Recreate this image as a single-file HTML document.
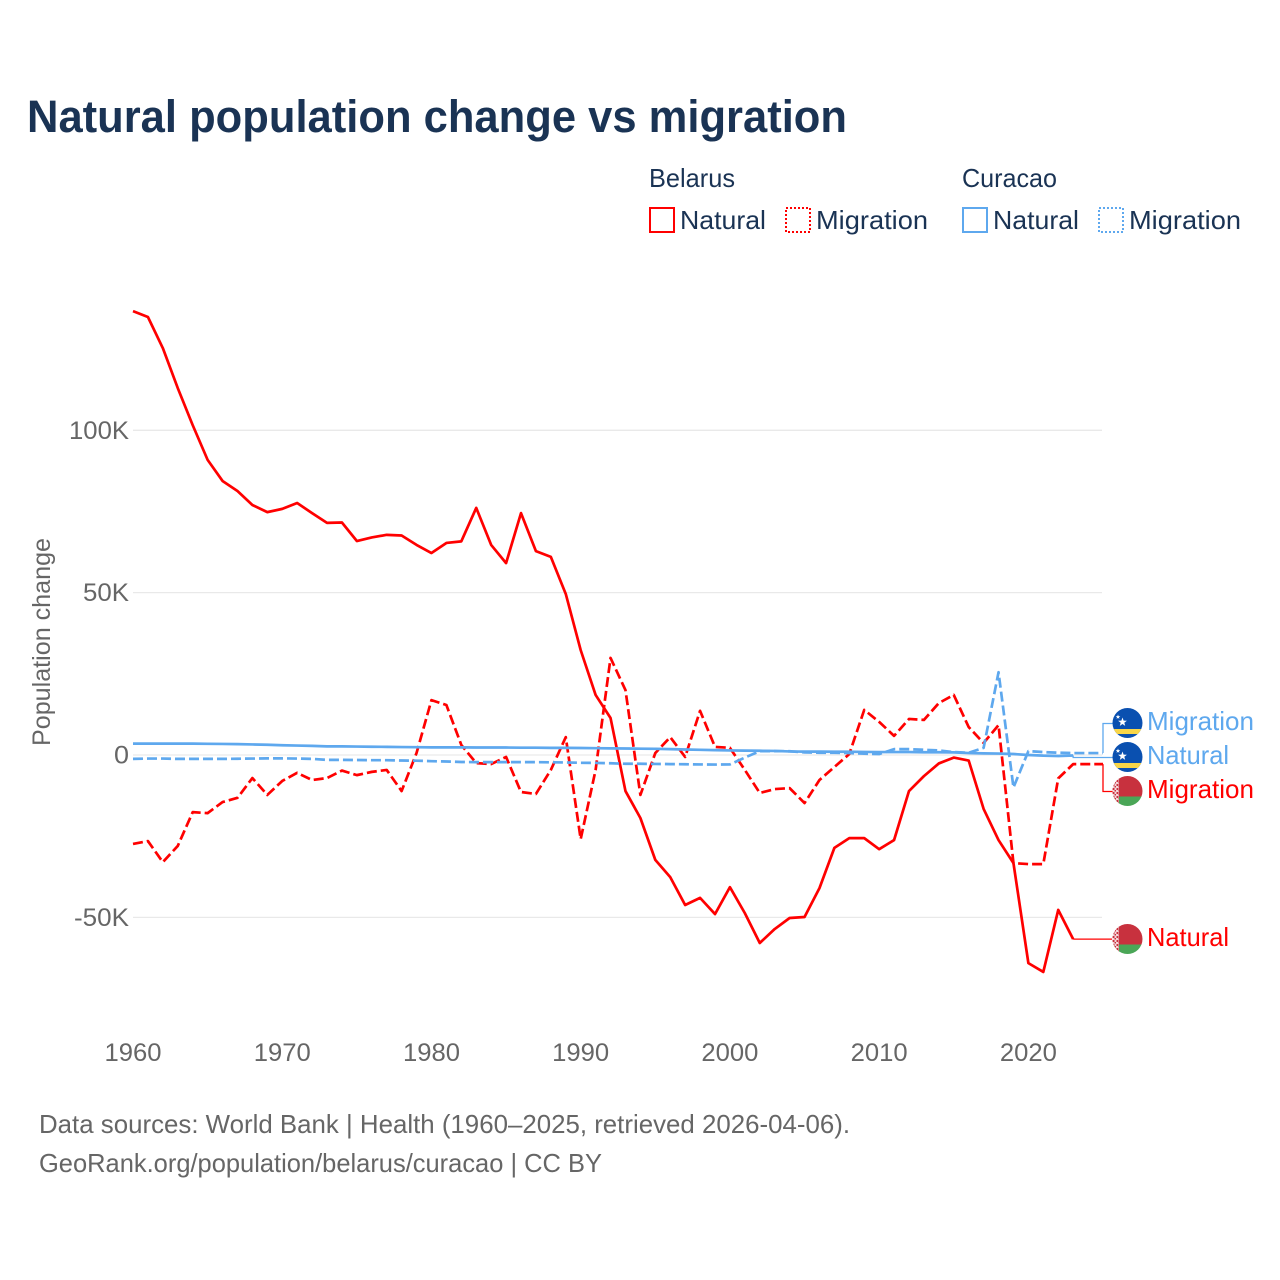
<!DOCTYPE html>
<html lang="en">
<head>
<meta charset="utf-8">
<title>Natural population change vs migration</title>
<style>
html,body{margin:0;padding:0;background:#fff;}
svg{display:block;}
text{font-family:"Liberation Sans",sans-serif;}
</style>
</head>
<body>
<svg id="chart" xmlns="http://www.w3.org/2000/svg" width="1280" height="1280" viewBox="0 0 1280 1280">
  <defs>
    <clipPath id="flag-clip"><circle cx="15" cy="15" r="15"/></clipPath>
    <pattern id="ornament" width="4" height="4" patternUnits="userSpaceOnUse">
      <rect width="4" height="4" fill="#f3d5d8"/>
      <rect x="0" y="0" width="2" height="2" fill="#c8313e"/>
      <rect x="2" y="2" width="1.5" height="1.5" fill="#c8313e"/>
    </pattern>
    <g id="flag-curacao">
      <g clip-path="url(#flag-clip)">
        <rect width="30" height="30" fill="#0a50b0"/>
        <rect y="21" width="30" height="5" fill="#f9d648"/>
        <polygon fill="#fff" points="10,9.5 11.1,12.6 14.4,12.7 11.8,14.7 12.7,17.9 10,16 7.3,17.9 8.2,14.7 5.6,12.7 8.9,12.6"/>
        <polygon fill="#fff" points="5.5,6.5 6.1,8.1 7.8,8.2 6.5,9.2 6.9,10.9 5.5,9.9 4.1,10.9 4.5,9.2 3.2,8.2 4.9,8.1"/>
      </g>
    </g>
    <g id="flag-belarus">
      <g clip-path="url(#flag-clip)">
        <rect width="30" height="20.5" fill="#c8313e"/>
        <rect y="20.5" width="30" height="9.5" fill="#4aa657"/>
        <rect width="6.5" height="30" fill="url(#ornament)"/>
      </g>
    </g>
  </defs>

  <text x="27" y="132" font-size="45" font-weight="700" fill="#1a3354" textLength="820" lengthAdjust="spacingAndGlyphs">Natural population change vs migration</text>

  <g font-size="26" fill="#1a3354">
    <text x="649" y="187" textLength="86" lengthAdjust="spacingAndGlyphs">Belarus</text>
    <text x="962" y="187" textLength="95" lengthAdjust="spacingAndGlyphs">Curacao</text>
    <g>
      <rect x="650" y="208" width="24" height="24" fill="none" stroke="#ff0000" stroke-width="2" shape-rendering="crispEdges"/>
      <text x="680" y="229" textLength="86" lengthAdjust="spacingAndGlyphs">Natural</text>
    </g>
    <g>
      <rect x="786" y="208" width="24" height="24" fill="none" stroke="#ff0000" stroke-width="2" stroke-dasharray="2,2" shape-rendering="crispEdges"/>
      <text x="816" y="229" textLength="112" lengthAdjust="spacingAndGlyphs">Migration</text>
    </g>
    <g>
      <rect x="963" y="208" width="24" height="24" fill="none" stroke="#5ea8ee" stroke-width="2" shape-rendering="crispEdges"/>
      <text x="993" y="229" textLength="86" lengthAdjust="spacingAndGlyphs">Natural</text>
    </g>
    <g>
      <rect x="1099" y="208" width="24" height="24" fill="none" stroke="#5ea8ee" stroke-width="2" stroke-dasharray="2,2" shape-rendering="crispEdges"/>
      <text x="1129" y="229" textLength="112" lengthAdjust="spacingAndGlyphs">Migration</text>
    </g>
  </g>

  <text transform="translate(50,642) rotate(-90)" text-anchor="middle" font-size="25" fill="#666666" textLength="208" lengthAdjust="spacingAndGlyphs">Population change</text>

  <g id="grid"></g>
  <g id="y-ticks"></g>
  <g id="x-ticks"></g>
  <g id="connectors"></g>
  <g id="series"></g>

  <g font-size="26">
    <use href="#flag-curacao" x="1112.5" y="708"/>
    <use href="#flag-curacao" x="1112.5" y="742"/>
    <use href="#flag-belarus" x="1112.5" y="776"/>
    <use href="#flag-belarus" x="1112.5" y="924"/>
    <text x="1147" y="730" fill="#5ea8ee" textLength="107" lengthAdjust="spacingAndGlyphs">Migration</text>
    <text x="1147" y="764" fill="#5ea8ee" textLength="82" lengthAdjust="spacingAndGlyphs">Natural</text>
    <text x="1147" y="798" fill="#ff0000" textLength="107" lengthAdjust="spacingAndGlyphs">Migration</text>
    <text x="1147" y="946" fill="#ff0000" textLength="82" lengthAdjust="spacingAndGlyphs">Natural</text>
  </g>

  <g font-size="26" fill="#666666">
    <text x="39" y="1133" textLength="811" lengthAdjust="spacingAndGlyphs">Data sources: World Bank | Health (1960–2025, retrieved 2026-04-06).</text>
    <text x="39" y="1172" textLength="563" lengthAdjust="spacingAndGlyphs">GeoRank.org/population/belarus/curacao | CC BY</text>
  </g>
</svg>
<script>
// Chart data (values in thousands of people, 1960 onward)
var startYear = 1960;
var belarusNatural = [
  136.7,134.9,125.3,113.0,101.6,90.9,84.4,81.3,77.0,74.8,
  75.8,77.6,74.5,71.5,71.6,65.9,67.0,67.8,67.6,64.7,
  62.2,65.3,65.8,76.1,64.7,59.1,74.5,62.8,61.0,49.6,
  32.3,18.5,11.4,-11.1,-19.4,-32.3,-37.6,-46.2,-44.0,-49.0,
  -40.7,-48.7,-57.9,-53.6,-50.2,-49.9,-41.0,-28.6,-25.6,-25.6,
  -29.0,-26.2,-11.1,-6.5,-2.6,-0.8,-1.7,-16.6,-26.2,-33.3,
  -64.1,-66.8,-47.7,-56.7
];
var belarusMigration = [
  -27.4,-26.5,-33.0,-28.0,-17.6,-17.9,-14.5,-13.2,-7.1,-12.3,
  -8.0,-5.5,-7.7,-7.1,-4.8,-6.2,-5.2,-4.6,-11.1,0.6,
  16.9,15.4,3.1,-2.5,-2.8,-0.6,-11.4,-12.0,-4.6,5.5,
  -25.9,-4.6,29.9,20.0,-12.3,0.6,5.5,-0.6,13.6,2.5,
  2.2,-4.6,-11.7,-10.5,-10.2,-14.8,-7.7,-3.7,0.3,13.9,
  10.2,5.9,11.1,10.8,16.0,18.5,8.6,3.7,9.2,-33.3,
  -33.6,-33.6,-7.2,-2.8,-2.8,-2.8
];
var curacaoNatural = [
  3.5,3.5,3.5,3.5,3.5,3.45,3.4,3.35,3.25,3.15,
  3.0,2.9,2.8,2.65,2.65,2.6,2.55,2.5,2.45,2.4,
  2.35,2.35,2.35,2.3,2.3,2.3,2.25,2.25,2.2,2.2,
  2.15,2.1,2.05,2.0,1.95,1.9,1.8,1.7,1.6,1.5,
  1.4,1.35,1.3,1.25,1.1,1.05,1.05,1.0,1.0,0.95,
  0.9,0.9,0.9,0.85,0.85,0.8,0.6,0.5,0.45,0.3,
  0,-0.2,-0.3,-0.15
];
var curacaoMigration = [
  -1.2,-1.1,-1.1,-1.2,-1.2,-1.2,-1.2,-1.15,-1.1,-1.05,
  -1.05,-1.1,-1.2,-1.5,-1.5,-1.55,-1.6,-1.6,-1.7,-1.75,
  -1.9,-2.0,-2.15,-2.2,-2.2,-2.2,-2.2,-2.2,-2.25,-2.3,
  -2.4,-2.45,-2.55,-2.7,-2.7,-2.75,-2.8,-2.85,-2.9,-2.95,
  -2.9,-0.8,1.2,1.2,1.15,0.8,0.7,0.7,0.6,0.4,
  0.3,1.8,1.8,1.6,1.4,0.9,0.7,2.2,25.5,-10,
  1.2,0.9,0.7,0.6,0.6,0.6
];
var xTickYears = [1960,1970,1980,1990,2000,2010,2020];
var yTickValues = [100,50,0,-50];
var yTickLabels = ["100K","50K","0","-50K"];

var NS = "http://www.w3.org/2000/svg";
function xScale(year){ return 133 + (year - 1960) * 14.923; }
function yScale(k){ return 755 - k * 3.247; }
function make(tag, parent){
  var el = document.createElementNS(NS, tag);
  document.getElementById(parent).appendChild(el);
  return el;
}
function seriesPoints(values){
  return values.map(function(v, i){
    return xScale(startYear + i).toFixed(2) + "," + yScale(v).toFixed(2);
  }).join(" ");
}

// gridlines and y ticks
var yTickWidths = [60,46,15,55];
yTickValues.forEach(function(v, i){
  var line = make("line", "grid");
  
  
  line.setAttribute("x1", 133);
  line.setAttribute("x2", 1102);
  line.setAttribute("y1", yScale(v));
  line.setAttribute("y2", yScale(v));
  line.setAttribute("stroke", "#e9e9e9");
  line.setAttribute("stroke-width", "1.3");
  var t = make("text", "y-ticks");
  
  
  t.setAttribute("x", 129 - yTickWidths[i]);
  t.setAttribute("y", yScale(v) + 8.5);
  t.setAttribute("font-size", "25");
  t.setAttribute("fill", "#666666");
  t.setAttribute("textLength", yTickWidths[i]);
  t.setAttribute("lengthAdjust", "spacingAndGlyphs");
  t.textContent = yTickLabels[i];
});

// x ticks
xTickYears.forEach(function(year){
  var t = make("text", "x-ticks");
  
  
  t.setAttribute("x", xScale(year) - 28.5);
  t.setAttribute("y", 1061);
  t.setAttribute("font-size", "25");
  t.setAttribute("fill", "#666666");
  t.setAttribute("textLength", 57);
  t.setAttribute("lengthAdjust", "spacingAndGlyphs");
  t.textContent = String(year);
});

// connectors from the last value of each series to its end label
function lastOf(a){ return a[a.length - 1]; }
function lastX(a){ return xScale(startYear + a.length - 1); }

var c1 = make("polyline", "connectors");


c1.setAttribute("points", lastX(belarusNatural) + "," + yScale(lastOf(belarusNatural)) + " 1112," + yScale(lastOf(belarusNatural)));
c1.setAttribute("fill", "none");
c1.setAttribute("stroke", "#ff0000");
c1.setAttribute("stroke-width", "1.3");

var c2 = make("polyline", "connectors");


c2.setAttribute("points", lastX(belarusMigration) + "," + yScale(lastOf(belarusMigration)) + " " + lastX(belarusMigration) + ",791.5 1113,791.5");
c2.setAttribute("fill", "none");
c2.setAttribute("stroke", "#ff0000");
c2.setAttribute("stroke-width", "1.3");

var c3 = make("polyline", "connectors");


c3.setAttribute("points", lastX(curacaoNatural) + "," + yScale(lastOf(curacaoNatural)) + " " + lastX(curacaoNatural) + ",757.5 1113,757.5");
c3.setAttribute("fill", "none");
c3.setAttribute("stroke", "#5ea8ee");
c3.setAttribute("stroke-width", "1.3");

var c4 = make("polyline", "connectors");


c4.setAttribute("points", lastX(curacaoMigration) + "," + yScale(lastOf(curacaoMigration)) + " " + lastX(curacaoMigration) + ",723.5 1113,723.5");
c4.setAttribute("fill", "none");
c4.setAttribute("stroke", "#5ea8ee");
c4.setAttribute("stroke-width", "1.3");

// series lines
var s1 = make("polyline", "series");


s1.setAttribute("points", seriesPoints(belarusNatural));
s1.setAttribute("fill", "none");
s1.setAttribute("stroke", "#ff0000");
s1.setAttribute("stroke-width", "2.7");
s1.setAttribute("stroke-linejoin", "round");

var s2 = make("polyline", "series");


s2.setAttribute("points", seriesPoints(belarusMigration));
s2.setAttribute("fill", "none");
s2.setAttribute("stroke", "#ff0000");
s2.setAttribute("stroke-width", "2.7");
s2.setAttribute("stroke-dasharray", "10,4");
s2.setAttribute("stroke-linejoin", "round");

var s3 = make("polyline", "series");


s3.setAttribute("points", seriesPoints(curacaoNatural));
s3.setAttribute("fill", "none");
s3.setAttribute("stroke", "#5ea8ee");
s3.setAttribute("stroke-width", "2.7");
s3.setAttribute("stroke-linejoin", "round");

var s4 = make("polyline", "series");


s4.setAttribute("points", seriesPoints(curacaoMigration));
s4.setAttribute("fill", "none");
s4.setAttribute("stroke", "#5ea8ee");
s4.setAttribute("stroke-width", "2.7");
s4.setAttribute("stroke-dasharray", "10,4");
s4.setAttribute("stroke-linejoin", "round");
</script>
</body>
</html>
